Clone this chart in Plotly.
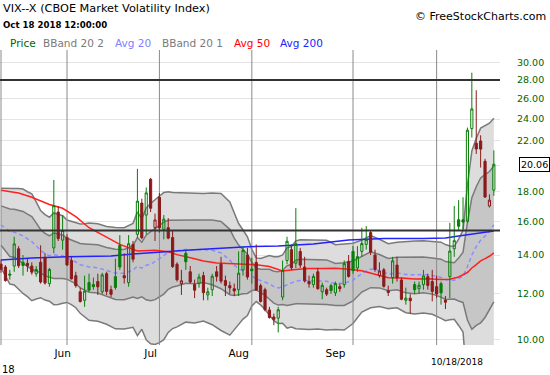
import math
import plotly.graph_objects as go

# ---------------- data ----------------
MONTH_DAYS = {
    5: [10, 11, 14, 15, 16, 17, 18, 21, 22, 23, 24, 25, 29, 30, 31],
    6: [1, 4, 5, 6, 7, 8, 11, 12, 13, 14, 15, 18, 19, 20, 21, 22, 25, 26, 27, 28, 29],
    7: [2, 3, 5, 6, 9, 10, 11, 12, 13, 16, 17, 18, 19, 20, 23, 24, 25, 26, 27, 30, 31],
    8: [1, 2, 3, 6, 7, 8, 9, 10, 13, 14, 15, 16, 17, 20, 21, 22, 23, 24, 27, 28, 29, 30, 31],
    9: [4, 5, 6, 7, 10, 11, 12, 13, 14, 17, 18, 19, 20, 21, 24, 25, 26, 27, 28],
    10: [1, 2, 3, 4, 5, 8, 9, 10, 11, 12, 15, 16, 17, 18],
}
DATES = [f"2018-{m:02d}-{d:02d}" for m, days in MONTH_DAYS.items() for d in days]

OPEN = [13.50, 13.35, 12.98, 13.40, 14.35, 13.60, 13.55, 13.40, 13.00, 13.60,
        13.85, 12.50, 14.40, 16.60, 14.85, 15.00, 13.70, 12.90, 12.10, 11.70,
        12.55, 12.45, 12.60, 12.10, 13.00, 12.20, 12.85, 14.55, 12.90, 12.55,
        14.60, 15.20, 17.20, 16.40, 18.90, 15.60, 17.60, 15.50, 15.60, 15.00,
        13.50, 12.50, 14.10, 13.10, 12.45, 12.50, 12.90, 11.95, 12.20, 13.10,
        13.50, 12.65, 12.40, 12.25, 12.20, 13.20, 14.00, 13.25, 13.60, 12.40,
        12.20, 11.26, 10.95, 10.90, 11.85, 13.70, 14.30, 13.55, 14.20, 13.35,
        12.60, 12.45, 13.10, 12.10, 12.20, 12.40, 12.05, 12.35, 12.45, 13.65,
        14.20, 13.30, 14.20, 14.60, 15.30, 14.00, 12.90, 13.20, 12.15, 12.80,
        13.45, 12.68, 11.70, 11.80, 12.45, 12.25, 12.45, 12.85, 12.60, 12.35,
        12.50, 11.70, 12.85, 14.35, 16.10, 16.10, 16.00, 23.10, 21.80, 22.00,
        20.30, 17.00, 18.10]
HIGH = [13.75, 13.45, 13.20, 15.05, 14.50, 14.00, 13.80, 13.60, 13.40, 14.55,
        14.10, 13.30, 18.85, 17.00, 16.40, 15.20, 13.95, 13.10, 12.30, 12.90,
        13.00, 12.80, 13.00, 13.05, 13.10, 12.40, 13.80, 15.15, 14.10, 15.15,
        14.80, 19.70, 17.50, 18.30, 19.00, 16.50, 17.90, 16.40, 16.20, 15.40,
        13.60, 13.20, 14.30, 13.40, 12.70, 13.00, 13.10, 12.30, 13.00, 13.40,
        13.90, 12.90, 12.60, 12.50, 14.20, 14.50, 14.40, 13.85, 14.60, 12.50,
        12.30, 11.40, 11.10, 11.40, 13.70, 15.05, 14.60, 16.86, 14.40, 13.90,
        12.90, 13.00, 13.30, 12.55, 12.30, 12.50, 12.60, 12.50, 13.70, 14.00,
        14.50, 14.50, 15.60, 15.70, 15.40, 14.30, 13.60, 13.30, 12.40, 13.90,
        13.90, 12.80, 12.30, 12.00, 12.60, 12.60, 13.20, 13.00, 13.20, 12.90,
        12.60, 11.90, 15.90, 17.00, 17.40, 17.60, 23.20, 28.84, 26.90, 22.50,
        20.50, 17.80, 21.20]
LOW = [13.05, 12.60, 12.70, 13.10, 13.30, 12.90, 13.10, 12.95, 12.85, 12.50,
       12.45, 12.35, 14.10, 14.80, 14.30, 13.40, 12.70, 12.30, 11.60, 11.40,
       12.10, 12.20, 11.95, 12.00, 11.95, 11.85, 12.20, 13.20, 12.50, 12.35,
       13.60, 15.00, 14.90, 15.20, 16.60, 14.80, 15.30, 14.90, 14.90, 13.30,
       12.60, 11.95, 13.20, 12.50, 11.80, 12.30, 11.70, 11.70, 11.90, 12.60,
       12.50, 11.90, 12.00, 11.90, 11.90, 12.90, 12.70, 12.50, 12.15, 11.60,
       11.20, 10.88, 10.60, 10.30, 11.70, 13.50, 13.20, 13.30, 13.30, 12.55,
       12.30, 12.30, 12.20, 11.75, 11.90, 12.00, 11.90, 12.10, 12.30, 12.80,
       13.00, 13.10, 13.90, 14.30, 14.00, 13.10, 12.80, 12.30, 11.90, 12.50,
       12.60, 11.70, 11.50, 11.10, 12.00, 12.00, 12.20, 12.20, 11.65, 11.80,
       11.50, 11.30, 11.80, 13.90, 15.40, 15.50, 15.90, 22.30, 20.90, 19.80,
       17.55, 16.90, 17.70]
CLOSE = [13.23, 12.65, 12.93, 14.63, 13.42, 13.43, 13.42, 13.08, 13.22, 12.58,
         12.53, 13.22, 17.02, 14.94, 15.43, 13.46, 12.74, 12.40, 11.64, 12.13,
         12.18, 12.35, 12.34, 12.94, 12.12, 11.98, 12.31, 13.35, 12.79, 14.64,
         13.77, 17.33, 14.99, 17.91, 16.85, 16.09, 15.60, 16.14, 14.97, 13.37,
         12.69, 12.64, 13.63, 12.58, 12.18, 12.83, 12.06, 12.10, 12.87, 12.86,
         12.62, 12.41, 12.29, 12.14, 13.03, 14.26, 12.83, 13.15, 12.19, 11.64,
         11.27, 10.93, 10.85, 11.27, 13.16, 14.78, 13.31, 14.64, 13.45, 12.64,
         12.49, 12.86, 12.25, 12.41, 11.99, 12.16, 12.50, 12.25, 13.53, 12.86,
         13.16, 13.91, 14.65, 14.88, 14.16, 13.22, 13.14, 12.37, 12.07, 13.68,
         12.79, 11.75, 11.80, 11.68, 12.20, 12.42, 12.89, 12.41, 12.12, 12.00,
         12.05, 11.61, 14.22, 14.82, 15.69, 15.95, 22.96, 24.98, 21.31, 21.30,
         17.62, 17.40, 20.06]
PREV_CLOSE = 13.42  # close of the session before the first one shown

# Bollinger (20) values read at these sessions
BAND_IDX = [0, 1, 2, 3, 4, 5, 6, 7, 8, 9, 10, 11, 12, 13, 14, 15, 16, 17, 18, 19,
            20, 22, 24, 26, 28, 30, 31, 32, 33, 34, 35, 36, 37, 38, 39, 40, 42, 44,
            46, 48, 50, 52, 53, 54, 55, 56, 57, 58, 59, 60, 61, 62, 63, 64, 65, 66,
            67, 68, 70, 72, 74, 76, 78, 80, 82, 84, 86, 88, 90, 92, 94, 96, 98, 100,
            101, 102, 103, 104, 105, 106, 107, 108, 109, 110, 111, 112]
AVG20 = [15.78, 15.55, 15.36, 15.33, 15.22, 15.10, 14.93, 14.76, 14.52, 14.26,
         14.07, 13.96, 14.02, 13.99, 13.96, 13.84, 13.74, 13.62, 13.47, 13.41,
         13.35, 13.31, 13.16, 13.03, 13.02, 13.19, 13.39, 13.29, 13.44, 13.51,
         13.64, 13.79, 13.97, 14.14, 14.20, 14.23, 14.31, 14.29, 14.32, 14.26,
         14.12, 13.73, 13.45, 13.26, 13.16, 13.03, 12.88, 12.74, 12.65, 12.58,
         12.49, 12.35, 12.29, 12.34, 12.44, 12.50, 12.63, 12.65, 12.64, 12.66,
         12.62, 12.50, 12.52, 12.67, 13.01, 13.24, 13.16, 12.98, 13.04, 12.96,
         12.94, 12.97, 12.91, 12.81, 12.69, 12.67, 12.67, 12.75, 12.88, 13.37,
         14.00, 14.47, 14.85, 15.09, 15.37, 15.78]
BB2_UPPER = [18.24, 18.25, 18.24, 18.23, 18.22, 18.18, 17.99, 17.84, 17.28, 16.70,
             16.43, 16.26, 16.54, 16.47, 16.36, 16.08, 15.98, 15.88, 15.83, 15.85,
             15.89, 15.85, 15.68, 15.61, 15.60, 15.87, 16.61, 16.15, 16.88, 17.17,
             17.46, 17.69, 17.93, 17.98, 17.94, 17.93, 17.89, 17.89, 17.86, 17.90,
             17.86, 17.27, 16.49, 15.86, 15.46, 15.05, 14.32, 13.84, 13.81, 13.88,
             13.97, 13.91, 13.91, 14.00, 14.40, 14.48, 14.81, 14.87, 14.86, 14.88,
             14.84, 14.58, 14.64, 14.67, 14.85, 15.12, 14.90, 14.64, 14.72, 14.78,
             14.80, 14.81, 14.75, 14.73, 14.59, 14.51, 14.49, 14.91, 15.44, 18.47,
             21.14, 22.23, 23.15, 23.41, 23.61, 24.08]
BB1_UPPER = [17.01, 16.90, 16.80, 16.78, 16.72, 16.64, 16.46, 16.30, 15.90, 15.48,
             15.25, 15.11, 15.28, 15.23, 15.16, 14.96, 14.86, 14.75, 14.65, 14.63,
             14.62, 14.58, 14.42, 14.32, 14.31, 14.53, 15.00, 14.72, 15.16, 15.34,
             15.55, 15.74, 15.95, 16.06, 16.07, 16.08, 16.10, 16.09, 16.09, 16.08,
             15.99, 15.50, 14.97, 14.56, 14.31, 14.04, 13.60, 13.29, 13.23, 13.23,
             13.23, 13.13, 13.10, 13.17, 13.42, 13.49, 13.72, 13.76, 13.75, 13.77,
             13.73, 13.54, 13.58, 13.67, 13.93, 14.18, 14.03, 13.81, 13.88, 13.87,
             13.87, 13.89, 13.83, 13.77, 13.64, 13.59, 13.58, 13.83, 14.16, 15.92,
             17.57, 18.35, 19.00, 19.25, 19.49, 19.93]
BB1_LOWER = [14.55, 14.20, 13.92, 13.88, 13.72, 13.56, 13.40, 13.22, 13.14, 13.04,
             12.89, 12.81, 12.76, 12.75, 12.76, 12.72, 12.62, 12.49, 12.29, 12.19,
             12.08, 12.04, 11.90, 11.74, 11.73, 11.85, 11.78, 11.86, 11.72, 11.68,
             11.73, 11.84, 11.99, 12.22, 12.33, 12.38, 12.52, 12.49, 12.55, 12.44,
             12.25, 11.96, 11.93, 11.96, 12.01, 12.02, 12.16, 12.19, 12.07, 11.93,
             11.75, 11.57, 11.48, 11.51, 11.46, 11.51, 11.54, 11.54, 11.53, 11.55,
             11.51, 11.46, 11.46, 11.67, 12.09, 12.30, 12.29, 12.15, 12.20, 12.05,
             12.01, 12.05, 11.99, 11.85, 11.74, 11.75, 11.76, 11.67, 11.60, 10.82,
             10.43, 10.59, 10.70, 10.93, 11.25, 11.63]
BB2_LOWER = [13.32, 12.85, 12.48, 12.43, 12.22, 12.02, 11.87, 11.68, 11.76, 11.82,
             11.71, 11.66, 11.50, 11.51, 11.56, 11.60, 11.50, 11.36, 11.11, 10.97,
             10.81, 10.77, 10.64, 10.45, 10.44, 10.51, 10.17, 10.43, 10.00, 9.85,
             9.82, 9.89, 10.01, 10.30, 10.46, 10.53, 10.73, 10.69, 10.78, 10.62,
             10.38, 10.19, 10.41, 10.66, 10.86, 11.01, 11.44, 11.64, 11.49, 11.28,
             11.01, 10.79, 10.67, 10.68, 10.48, 10.52, 10.45, 10.43, 10.42, 10.44,
             10.40, 10.42, 10.40, 10.67, 11.17, 11.36, 11.42, 11.32, 11.36, 11.14,
             11.08, 11.13, 11.07, 10.89, 10.79, 10.83, 10.85, 10.59, 10.32, 8.27,
             6.86, 6.71, 6.55, 6.77, 7.13, 7.48]

AVG50_IDX = [0, 4, 7, 11, 14, 17, 20, 24, 27, 31, 33, 35, 38, 40, 44, 46, 49, 52,
             55, 58, 61, 64, 67, 70, 73, 76, 79, 82, 85, 88, 91, 94, 97, 100, 102,
             104, 106, 107, 108, 109, 110, 111, 112]
AVG50 = [18.10, 17.90, 17.60, 17.10, 16.85, 16.30, 15.60, 15.00, 14.60, 14.22,
         14.25, 14.27, 14.18, 14.02, 13.79, 13.67, 13.57, 13.54, 13.50, 13.47,
         13.38, 13.14, 13.22, 13.27, 13.27, 13.28, 13.23, 13.15, 12.97, 12.79,
         12.78, 12.73, 12.74, 12.70, 12.72, 12.83, 13.06, 13.30, 13.48, 13.68,
         13.80, 13.93, 14.12]

AVG200_IDX = [0, 7, 15, 25, 30, 37, 43, 49, 56, 63, 71, 79, 87, 96, 101, 104, 109, 112]
AVG200 = [13.73, 13.84, 13.90, 13.95, 14.06, 14.20, 14.28, 14.37, 14.47, 14.51,
          14.63, 14.86, 14.95, 14.95, 14.98, 15.10, 15.28, 15.40]

H_LEVELS = [28.0, 15.43]
MONTH_START_DATES = ["2018-05-10", "2018-06-01", "2018-07-02", "2018-08-01",
                     "2018-09-04", "2018-10-01"]
MONTH_LABEL_DATES = ["2018-05-31", "2018-06-28", "2018-07-27", "2018-08-28"]
MONTH_LABELS = ["Jun", "Jul", "Aug", "Sep"]
Y_TICKS = [10, 12, 14, 16, 18, 20, 22, 24, 26, 28, 30]
LAST_PRICE = 20.06
LAST_DATE_LABEL = "10/18/2018"

# ---------------- styling ----------------
FONT = "DejaVu Sans"
GREEN = "#0a7d0a"
RED = "#8b1a1a"
BAND_LINE = "#7a7a7a"
OUTER_FILL = "#dddddd"
INNER_FILL = "#c6c6c6"
Y_RANGE = [math.log10(9.80), math.log10(31.55)]
X_RANGE = [-0.23, 113.4]

fig = go.Figure()

bx = [DATES[i] for i in BAND_IDX]
fig.add_trace(go.Scatter(x=bx, y=BB2_UPPER, mode="lines",
                         line=dict(color=BAND_LINE, width=1.5), hoverinfo="skip"))
fig.add_trace(go.Scatter(x=bx, y=BB2_LOWER, mode="lines", fill="tonexty",
                         fillcolor=OUTER_FILL,
                         line=dict(color=BAND_LINE, width=1.5), hoverinfo="skip"))
fig.add_trace(go.Scatter(x=bx, y=BB1_UPPER, mode="lines",
                         line=dict(color=BAND_LINE, width=1.5), hoverinfo="skip"))
fig.add_trace(go.Scatter(x=bx, y=BB1_LOWER, mode="lines", fill="tonexty",
                         fillcolor=INNER_FILL,
                         line=dict(color=BAND_LINE, width=1.5), hoverinfo="skip"))

# month separators
vx, vy = [], []
for d in MONTH_START_DATES:
    vx += [d, d, None]
    vy += [5, 60, None]
fig.add_trace(go.Scatter(x=vx, y=vy, mode="lines",
                         line=dict(color="#8a8a8a", width=1), hoverinfo="skip"))

fig.add_trace(go.Scatter(x=bx, y=AVG20, mode="lines",
                         line=dict(color="#8c8cff", width=1.5, dash="4px,3px"),
                         hoverinfo="skip"))
fig.add_trace(go.Scatter(x=[DATES[i] for i in AVG50_IDX], y=AVG50, mode="lines",
                         line=dict(color="#ff2020", width=1.5), hoverinfo="skip"))
fig.add_trace(go.Scatter(x=[DATES[i] for i in AVG200_IDX], y=AVG200, mode="lines",
                         line=dict(color="#2222ff", width=1.5), hoverinfo="skip"))

# candles: colour by change from previous close, hollow when close > open
prev = [PREV_CLOSE] + CLOSE[:-1]
up = [c >= p for c, p in zip(CLOSE, prev)]
for is_up, col in [(True, GREEN), (False, RED)]:
    sel = [k for k in range(len(DATES)) if up[k] == is_up]
    fig.add_trace(go.Candlestick(
        x=[DATES[k] for k in sel],
        open=[OPEN[k] for k in sel], high=[HIGH[k] for k in sel],
        low=[LOW[k] for k in sel], close=[CLOSE[k] for k in sel],
        xaxis="x2", yaxis="y2", whiskerwidth=0,
        increasing=dict(line=dict(color=col, width=1), fillcolor="rgba(0,0,0,0)"),
        decreasing=dict(line=dict(color=col, width=1), fillcolor=col),
        showlegend=False))

shapes = [dict(type="line", xref="paper", x0=0, x1=1, yref="y", y0=v, y1=v,
               line=dict(color="#333333", width=2), layer="above") for v in H_LEVELS]

def px(x):
    return x / 500.0

def py(y):
    return (345.0 - y) / 295.0

ann = [
    dict(text="VIX--X (CBOE Market Volatility Index)", x=px(1), y=py(9),
         font=dict(size=11.3, color="#000000")),
    dict(text="<b>Oct 18 2018 12:00:00</b>", x=px(1), y=py(25),
         font=dict(size=8.6, color="#000000")),
    dict(text="Price", x=px(8), y=py(43), font=dict(size=10.5, color="#006400")),
    dict(text="BBand 20 2", x=px(41), y=py(43), font=dict(size=10.5, color="#7a7a7a")),
    dict(text="Avg 20", x=px(113), y=py(43), font=dict(size=10.5, color="#8080ff")),
    dict(text="BBand 20 1", x=px(160), y=py(43), font=dict(size=10.5, color="#7a7a7a")),
    dict(text="Avg 50", x=px(232), y=py(43), font=dict(size=10.5, color="#ff0000")),
    dict(text="Avg 200", x=px(278), y=py(43), font=dict(size=10.5, color="#2222ff")),
    dict(text="© FreeStockCharts.com", x=px(548), y=py(17), xanchor="right",
         font=dict(size=11, color="#000000")),
    dict(text=LAST_DATE_LABEL, x=px(457), y=py(362), xanchor="center",
         font=dict(size=9, color="#000000")),
    dict(text="18", x=px(0), y=py(369), font=dict(size=10, color="#000000")),
]
for a in ann:
    a.setdefault("xanchor", "left")
    a.update(xref="paper", yref="paper", yanchor="middle", showarrow=False,
             font=dict(family=FONT, **a["font"]))
ann.append(dict(text=f"{LAST_PRICE:.2f}", xref="paper", x=px(534), yref="y",
                y=math.log10(LAST_PRICE), showarrow=False, xanchor="center",
                yanchor="middle", bgcolor="#ffffff", bordercolor="#000000",
                borderwidth=1, borderpad=1,
                font=dict(family=FONT, size=9.5, color="#000000")))

# the 20.00 label sits under the last-price box in the reference, so it is left blank
y_ticktext = ["" if abs(v - LAST_PRICE) < 0.5 else f"{v:.2f}" for v in Y_TICKS]

fig.update_layout(
    width=550, height=375,
    margin=dict(l=0, r=50, t=50, b=30),
    paper_bgcolor="#ffffff", plot_bgcolor="#ffffff",
    showlegend=False,
    font=dict(family=FONT),
    xaxis=dict(type="category", categoryorder="array", categoryarray=DATES,
               range=X_RANGE, tickvals=MONTH_LABEL_DATES, ticktext=MONTH_LABELS,
               showgrid=False, zeroline=False, showline=False, ticks="",
               tickfont=dict(family=FONT, size=10.5, color="#000000"),
               rangeslider=dict(visible=False)),
    yaxis=dict(type="log", range=Y_RANGE, side="right", tickvals=Y_TICKS,
               ticktext=y_ticktext,
               showgrid=True, gridcolor="#e4e4e4", gridwidth=1, zeroline=False,
               showline=False, ticks="", ticklabelstandoff=16,
               tickfont=dict(family=FONT, size=9.5, color="#006400")),
    xaxis2=dict(type="category", categoryorder="array", categoryarray=DATES,
                range=X_RANGE, overlaying="x", visible=False,
                rangeslider=dict(visible=False)),
    yaxis2=dict(type="log", range=Y_RANGE, overlaying="y", visible=False),
    shapes=shapes,
    annotations=ann,
)

fig.write_html("out.html",
               config={"displayModeBar": False, "staticPlot": True},
               post_script="document.body.style.margin='0px';"
                           "document.body.style.overflow='hidden';")
